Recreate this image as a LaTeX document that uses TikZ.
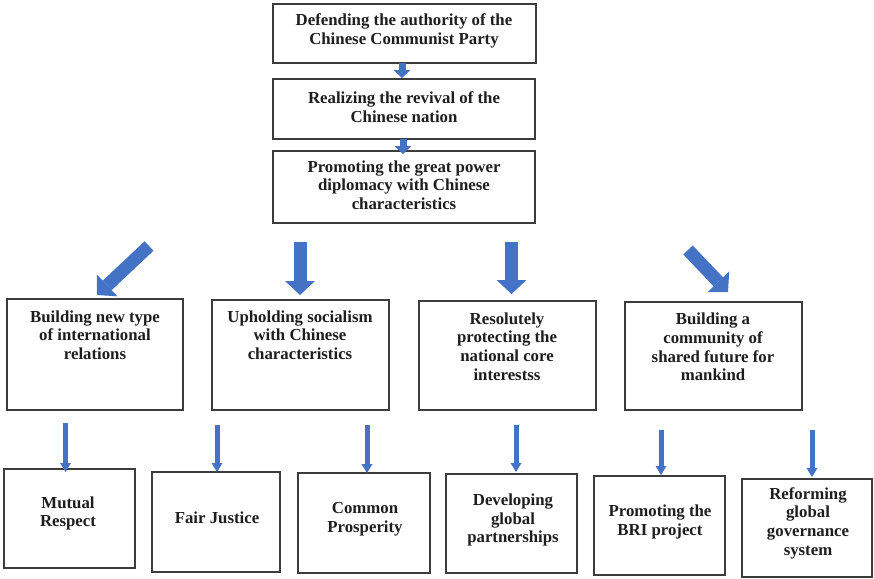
\documentclass[tikz,border=0pt]{standalone}
\usepackage{fontspec}
\setmainfont{Liberation Serif}
\usetikzlibrary{arrows.meta}
\definecolor{arrowblue}{HTML}{4472C4}
\definecolor{boxgray}{HTML}{3C3C3C}
\definecolor{textdark}{HTML}{1E1E1E}
\begin{document}
\begin{tikzpicture}[x=0.75pt,y=-0.75pt,
  box/.style={draw=boxgray,line width=1.3pt,fill=white,anchor=north west,inner sep=0pt,outer sep=0pt},
  lbl/.style={font=\bfseries\fontsize{12.6}{14}\selectfont,align=center,inner sep=0pt,text=textdark},
  bigarrow/.style={draw=arrowblue,line width=9.75pt,-{Triangle[width=22.5pt,length=10.5pt,line width=0pt]}},
  smallarrow/.style={draw=arrowblue,line width=5.25pt,-{Triangle[width=12.75pt,length=6pt,line width=0pt]}},
  thinarrow/.style={draw=arrowblue,line width=3.75pt,-{Triangle[width=8.25pt,length=6.75pt,line width=0pt]}}
]
\useasboundingbox (0,0) rectangle (874,578);

% top boxes
\node[box,minimum width=197.25pt,minimum height=44.25pt] (T1) at (273,4) {};
\node[box,minimum width=196.5pt,minimum height=45pt] (T2) at (273,79) {};
\node[box,minimum width=196.5pt,minimum height=54pt] (T3) at (273,151) {};
\node[lbl] (t1) at (404,31) {Defending the authority of the\\Chinese Communist Party};
\node[lbl] (t2) at (404,107) {Realizing the revival of the\\Chinese nation};
\node[lbl] (t3) at (404,185) {Promoting the great power\\diplomacy with Chinese\\characteristics};

% middle boxes
\node[box,minimum width=132pt,minimum height=83.25pt] (M1) at (7,299) {};
\node[box,minimum width=132.75pt,minimum height=82.5pt] (M2) at (212,300) {};
\node[box,minimum width=132.75pt,minimum height=81.75pt] (M3) at (419,301) {};
\node[box,minimum width=132.75pt,minimum height=81pt] (M4) at (625,302) {};
\node[lbl] (m1) at (95,335) {Building new type\\of international\\relations};
\node[lbl] (m2) at (300,335) {Upholding socialism\\with Chinese\\characteristics};
\node[lbl] (m3) at (507,346.5) {Resolutely\\protecting the\\national core\\interestss};
\node[lbl] (m4) at (713,347) {Building a\\community of\\shared future for\\mankind};

% bottom boxes
\node[box,minimum width=98.25pt,minimum height=74.25pt] (B1) at (4,469) {};
\node[box,minimum width=96pt,minimum height=75pt] (B2) at (152,472) {};
\node[box,minimum width=99pt,minimum height=75pt] (B3) at (298,473) {};
\node[box,minimum width=98.25pt,minimum height=74.25pt] (B4) at (446,474) {};
\node[box,minimum width=98.25pt,minimum height=74.25pt] (B5) at (594,476) {};
\node[box,minimum width=97.5pt,minimum height=73.5pt] (B6) at (742,479) {};
\node[lbl] (b1) at (68,513.5) {Mutual\\Respect};
\node[lbl] (b2) at (217,518) {Fair Justice};
\node[lbl] (b3) at (365,519) {Common\\Prosperity};
\node[lbl] (b4) at (513,520) {Developing\\global\\partnerships};
\node[lbl] (b5) at (660,522) {Promoting the\\BRI project};
\node[lbl] (b6) at (808,523) {Reforming\\global\\governance\\system};

% arrow end points
\coordinate (a1s) at (402,63);  \coordinate (a1e) at (402,78);
\coordinate (a2s) at (403,139); \coordinate (a2e) at (403,154);
\coordinate (d1s) at (149,246); \coordinate (d1e) at (97,295);
\coordinate (d2s) at (300,242); \coordinate (d2e) at (300,295);
\coordinate (d3s) at (511.5,242); \coordinate (d3e) at (511.5,294);
\coordinate (d4s) at (688,250); \coordinate (d4e) at (728,292);
\coordinate (e1s) at (65.5,423); \coordinate (e1e) at (65.5,472);
\coordinate (e2s) at (217,425); \coordinate (e2e) at (217,472);
\coordinate (e3s) at (367,425); \coordinate (e3e) at (367,473);
\coordinate (e4s) at (516,425); \coordinate (e4e) at (516,472);
\coordinate (e5s) at (661,430); \coordinate (e5e) at (661,475);
\coordinate (e6s) at (812,430); \coordinate (e6e) at (812,477);

\draw[smallarrow] (a1s) -- (a1e);
\draw[smallarrow] (a2s) -- (a2e);
\draw[bigarrow] (d1s) -- (d1e);
\draw[bigarrow] (d2s) -- (d2e);
\draw[bigarrow] (d3s) -- (d3e);
\draw[bigarrow] (d4s) -- (d4e);
\draw[thinarrow] (e1s) -- (e1e);
\draw[thinarrow] (e2s) -- (e2e);
\draw[thinarrow] (e3s) -- (e3e);
\draw[thinarrow] (e4s) -- (e4e);
\draw[thinarrow] (e5s) -- (e5e);
\draw[thinarrow] (e6s) -- (e6e);
\end{tikzpicture}
\end{document}
